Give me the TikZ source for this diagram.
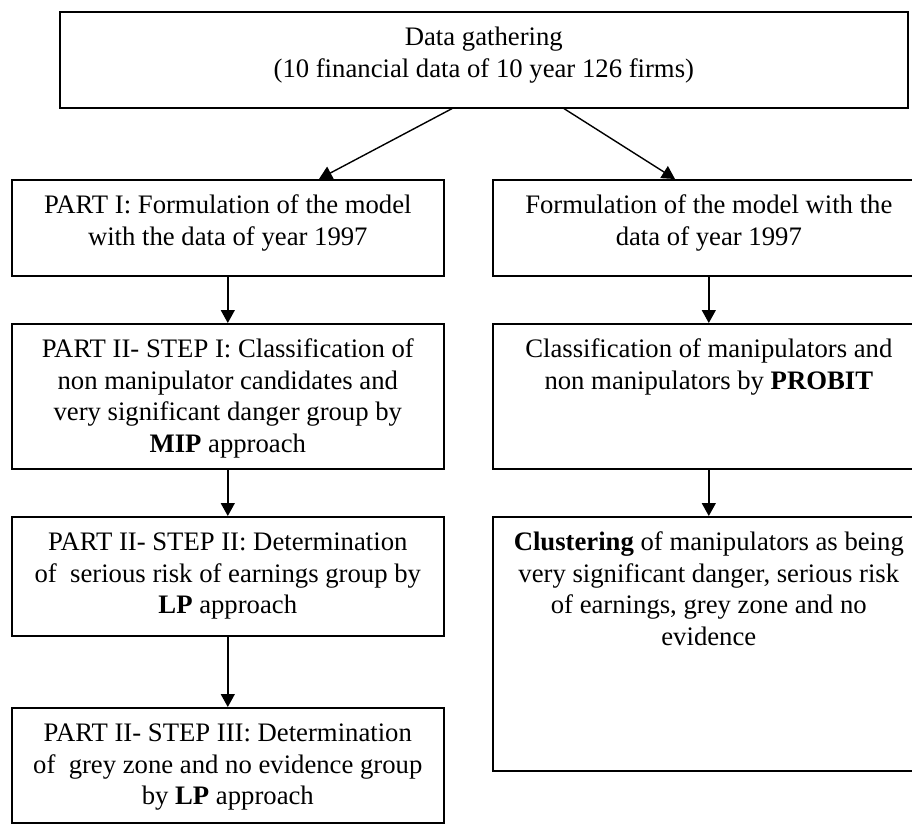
\documentclass[tikz,border=0pt]{standalone}
\usepackage{fontspec}
\setmainfont{Liberation Serif}
\usetikzlibrary{arrows.meta,calc}
\newcommand{\boxtext}[3]{\parbox[c][#2][t]{#1}{\centering\vspace*{12pt}\strut #3\par}}
\begin{document}
\begin{tikzpicture}[x=1pt,y=-1pt,
  font=\fontsize{26.7}{31.5}\selectfont,
  box/.style={draw, line width=1.6pt, inner sep=0pt, anchor=north west},
  arr/.style={line width=1.4pt, -{Triangle[length=13pt,width=14pt]}}]
\clip (0,0) rectangle (912,823);
\fill[white] (0,0) rectangle (912,823);
% top
\node[box] (top) at (59,11) {\boxtext{848pt}{96pt}{Data gathering\\(10 financial data of 10 year 126 firms)}};
% left column
\node[box] (p1) at (11,179) {\boxtext{432pt}{96pt}{PART I: Formulation of the model\\with the data of year 1997}};
\node[box] (s1) at (11,323) {\boxtext{432pt}{145pt}{PART II- STEP I: Classification of\\non manipulator candidates and\\very significant danger group by\\\textbf{MIP} approach}};
\node[box] (s2) at (11,516) {\boxtext{432pt}{119pt}{PART II- STEP II: Determination\\of~ serious risk of earnings group by\\\textbf{LP} approach}};
\node[box] (s3) at (11,707) {\boxtext{432pt}{115pt}{PART II- STEP III: Determination\\of~ grey zone and no evidence group\\by \textbf{LP} approach}};
% right column
\node[box] (f1) at (492,179) {\boxtext{432pt}{96pt}{Formulation of the model with the\\data of year 1997}};
\node[box] (c1) at (492,323) {\boxtext{432pt}{145pt}{Classification of manipulators and\\non manipulators by \textbf{PROBIT}}};
\node[box] (k1) at (492,516) {\boxtext{432pt}{254pt}{\textbf{Clustering} of manipulators as being\\very significant danger, serious risk\\of earnings, grey zone and no\\evidence}};
% connectors
\draw[arr] ($(top.south west)+(393,0)$) -- ($(p1.north west)+(308,0)$);
\draw[arr] ($(top.south west)+(505,0)$) -- ($(f1.north west)+(183,0)$);
\draw[arr] (p1.south) -- (s1.north);
\draw[arr] (s1.south) -- (s2.north);
\draw[arr] (s2.south) -- (s3.north);
\draw[arr] (f1.south) -- (c1.north);
\draw[arr] (c1.south) -- (k1.north);
\end{tikzpicture}
\end{document}
